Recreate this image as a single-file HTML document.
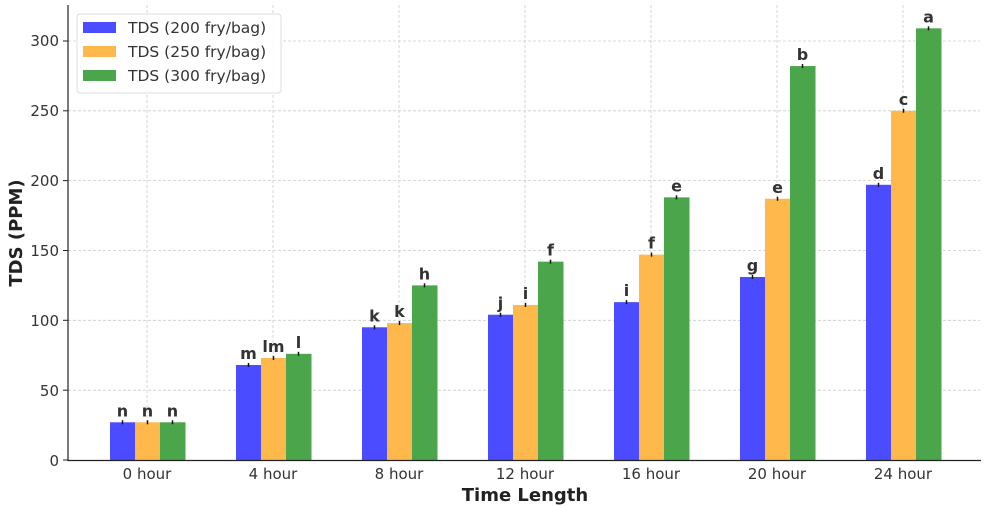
<!DOCTYPE html><html><head><style>body{margin:0;background:#fff}svg{display:block;font-family:"DejaVu Sans","Liberation Sans",sans-serif}</style></head><body>
<svg width="984" height="506" xmlns="http://www.w3.org/2000/svg">
<g stroke="#ccc" stroke-dasharray="3,2" stroke-width="0.8">
<line x1="68" x2="980" y1="390.2" y2="390.2"/><line x1="68" x2="980" y1="320.3" y2="320.3"/><line x1="68" x2="980" y1="250.5" y2="250.5"/><line x1="68" x2="980" y1="180.6" y2="180.6"/><line x1="68" x2="980" y1="110.8" y2="110.8"/><line x1="68" x2="980" y1="41" y2="41"/>
<line x1="147" x2="147" y1="5" y2="460"/><line x1="273" x2="273" y1="5" y2="460"/><line x1="399" x2="399" y1="5" y2="460"/><line x1="525" x2="525" y1="5" y2="460"/><line x1="651" x2="651" y1="5" y2="460"/><line x1="777" x2="777" y1="5" y2="460"/><line x1="903" x2="903" y1="5" y2="460"/>
</g>
<g id="bars"></g>
<line x1="68" x2="68" y1="5" y2="461" stroke="#222" stroke-width="1.2"/>
<line x1="68" x2="981" y1="460.5" y2="460.5" stroke="#222" stroke-width="1.2"/>
<g font-size="15" fill="#333" text-anchor="end">
<text x="59" y="466">0</text><text x="59" y="396">50</text><text x="59" y="326">100</text><text x="59" y="256">150</text><text x="59" y="186">200</text><text x="59" y="116">250</text><text x="59" y="46">300</text>
</g>
<g stroke="#222"><line x1="63" x2="68" y1="460" y2="460"/><line x1="63" x2="68" y1="390.2" y2="390.2"/><line x1="63" x2="68" y1="320.3" y2="320.3"/><line x1="63" x2="68" y1="250.5" y2="250.5"/><line x1="63" x2="68" y1="180.6" y2="180.6"/><line x1="63" x2="68" y1="110.8" y2="110.8"/><line x1="63" x2="68" y1="41" y2="41"/></g>
<g font-size="15" fill="#333" text-anchor="middle">
<text x="147" y="479">0 hour</text><text x="273" y="479">4 hour</text><text x="399" y="479">8 hour</text><text x="525" y="479">12 hour</text><text x="651" y="479">16 hour</text><text x="777" y="479">20 hour</text><text x="903" y="479">24 hour</text>
</g>
<text x="525" y="501" font-size="18" font-weight="bold" text-anchor="middle" fill="#222">Time Length</text>
<text transform="translate(22,233) rotate(-90)" font-size="18" font-weight="bold" text-anchor="middle" fill="#222">TDS (PPM)</text>
<rect x="77" y="14" width="204" height="79" rx="3" fill="#fff" fill-opacity="0.9" stroke="#ddd"/>
<rect x="83" y="22" width="33" height="11" fill="#4b4bff"/><rect x="83" y="46" width="33" height="11" fill="#ffb84b"/><rect x="83" y="70" width="33" height="11" fill="#4ba64b"/>
<g font-size="15.5" fill="#333"><text x="128" y="33">TDS (200 fry/bag)</text><text x="128" y="57">TDS (250 fry/bag)</text><text x="128" y="81">TDS (300 fry/bag)</text></g>
</svg>
<script>
var d=[[27,27,27],[68,73,76],[95,98,125],[104,111,142],[113,147,188],[131,187,282],[197,250,309]];
var L=[["n","n","n"],["m","lm","l"],["k","k","h"],["j","i","f"],["i","f","e"],["g","e","b"],["d","c","a"]];
var c=["#4b4bff","#ffb84b","#4ba64b"],s="";
d.forEach(function(g,i){g.forEach(function(v,j){var x=110+i*126+j*25,y=460-v*1.397;
s+='<rect x="'+x+'" y="'+y+'" width="25.5" height="'+(460-y)+'" fill="'+c[j]+'"/>';
s+='<line x1="'+(x+12.5)+'" x2="'+(x+12.5)+'" y1="'+(y-2)+'" y2="'+(y+2)+'" stroke="#111" stroke-width="1.5"/>';
s+='<text x="'+(x+12.5)+'" y="'+(y-6)+'" font-size="16" font-weight="bold" fill="#333" text-anchor="middle">'+L[i][j]+'</text>';});});
document.getElementById("bars").innerHTML=s;
</script>
</body></html>
